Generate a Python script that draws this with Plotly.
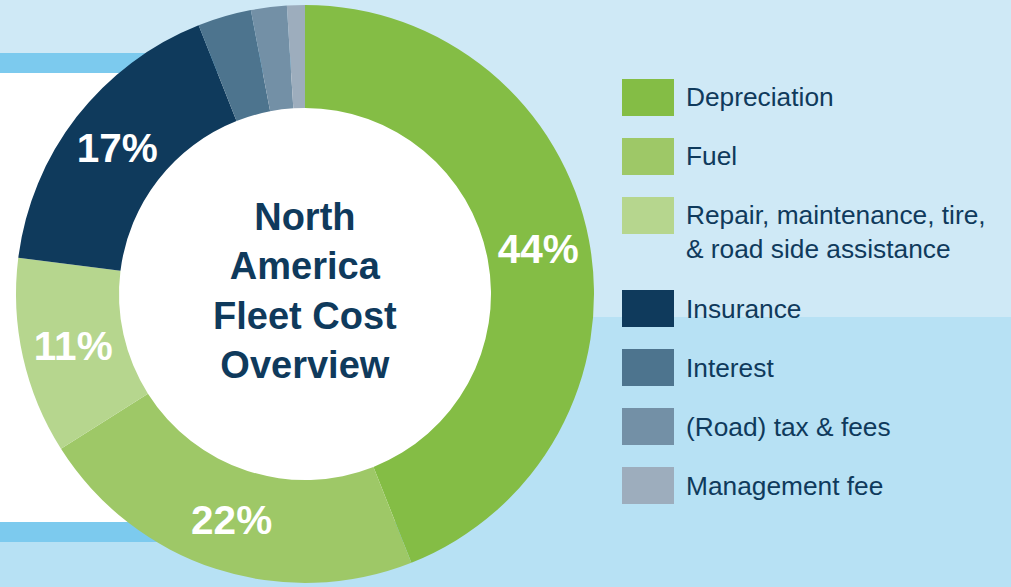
import plotly.graph_objects as go

# ---- data ----
categories = [
    "Depreciation",
    "Fuel",
    "Repair, maintenance, tire,<br>& road side assistance",
    "Insurance",
    "Interest",
    "(Road) tax & fees",
    "Management fee",
]
shares = [44, 22, 11, 17, 3, 2, 1]
colors = ["#84bd45", "#9ec867", "#b6d68e", "#0f3a5c", "#4d748e", "#7390a6", "#9dadbd"]
center_title = "North<br>America<br>Fleet Cost<br>Overview"

W, H = 1011, 587
NAVY = "#0f3a5c"
FONT = "Liberation Sans, Arial, Helvetica, sans-serif"


def px(x):
    return x / W


def py(y):
    return 1 - y / H


# donut geometry (pixels)
cx, cy, r_out, r_in = 305, 294, 289, 186

fig = go.Figure()
fig.add_trace(go.Pie(
    labels=categories,
    values=shares,
    sort=False,
    direction="clockwise",
    rotation=0,
    hole=r_in / r_out,
    marker=dict(colors=colors, line=dict(width=0)),
    texttemplate=["%{value}%" if v >= 5 else "" for v in shares],
    textposition="inside",
    insidetextorientation="horizontal",
    insidetextfont=dict(family=FONT, size=40.5, color="white", weight="bold"),
    domain=dict(x=[px(cx - r_out), px(cx + r_out)], y=[py(cy + r_out), py(cy - r_out)]),
    showlegend=False,
    hoverinfo="label+percent",
))

shapes = [
    dict(type="rect", xref="paper", yref="paper", x0=0, x1=1, y0=py(317), y1=1,
         fillcolor="#cfe9f6", line_width=0, layer="below"),
    dict(type="rect", xref="paper", yref="paper", x0=0, x1=1, y0=0, y1=py(317),
         fillcolor="#b7e1f4", line_width=0, layer="below"),
    dict(type="rect", xref="paper", yref="paper", x0=0, x1=px(420), y0=py(73), y1=py(53),
         fillcolor="#7ccaee", line_width=0, layer="below"),
    dict(type="rect", xref="paper", yref="paper", x0=0, x1=px(420), y0=py(542), y1=py(522),
         fillcolor="#7ccaee", line_width=0, layer="below"),
    dict(type="rect", xref="paper", yref="paper", x0=0, x1=px(420), y0=py(522), y1=py(73),
         fillcolor="white", line_width=0, layer="below"),
    dict(type="circle", xref="paper", yref="paper",
         x0=px(cx - r_in - 2), x1=px(cx + r_in + 2), y0=py(cy + r_in + 2), y1=py(cy - r_in - 2),
         fillcolor="white", line_width=0, layer="below"),
]

annotations = [
    dict(text=center_title, x=px(cx), y=py(291), xref="paper", yref="paper",
         xanchor="center", yanchor="middle", showarrow=False, align="center",
         font=dict(family=FONT, size=38, color=NAVY, weight="bold")),
]

# custom legend built from the category / colour lists
leg_x0, leg_x1 = 622, 674
top = 79
sq_h = 37
step = 59
line_h = 33.5
for name, col in zip(categories, colors):
    n_lines = name.count("<br>") + 1
    shapes.append(dict(type="rect", xref="paper", yref="paper",
                       x0=px(leg_x0), x1=px(leg_x1), y0=py(top + sq_h), y1=py(top),
                       fillcolor=col, line_width=0))
    mid = top + sq_h / 2 + (n_lines - 1) * line_h / 2
    annotations.append(dict(text=name, x=px(684), y=py(mid), xref="paper", yref="paper",
                            xanchor="left", yanchor="middle", showarrow=False, align="left",
                            font=dict(family=FONT, size=26.3, color=NAVY)))
    top += step + (n_lines - 1) * 34

fig.update_layout(
    width=W, height=H, autosize=False,
    margin=dict(l=0, r=0, t=0, b=0),
    paper_bgcolor="#cfe9f6",
    plot_bgcolor="rgba(0,0,0,0)",
    shapes=shapes,
    annotations=annotations,
    showlegend=False,
)

fig.write_html(
    "out.html",
    config={"displayModeBar": False},
    post_script="document.body.style.margin='0';document.body.style.overflow='hidden';",
)
